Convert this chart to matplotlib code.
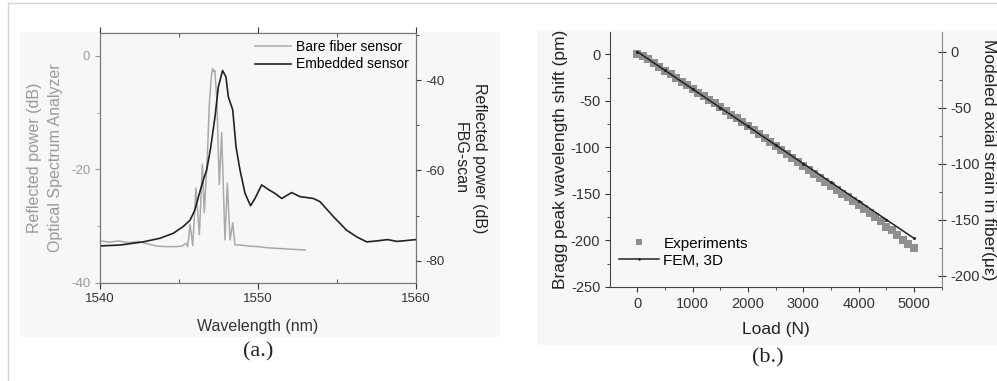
import numpy as np
import matplotlib
matplotlib.use("Agg")
import matplotlib.pyplot as plt
from matplotlib.ticker import MultipleLocator, FixedLocator
from matplotlib.patches import Rectangle
from matplotlib.lines import Line2D

plt.rcParams['font.family'] = ['Liberation Sans', 'DejaVu Sans']
plt.rcParams['axes.unicode_minus'] = False

# ---- (a.) reflection spectra ----
bare_wl = [1540.0, 1540.6, 1541.2, 1541.8, 1542.4, 1543.0, 1543.6, 1544.2, 1544.8, 1545.2,
           1545.44, 1545.55, 1545.7, 1545.87, 1546.07, 1546.29, 1546.48, 1546.6, 1546.8, 1546.92,
           1547.05, 1547.13, 1547.2, 1547.27, 1547.4, 1547.55, 1547.7, 1547.91, 1548.06, 1548.23,
           1548.4, 1548.54, 1548.8, 1549.4, 1550.0, 1550.6, 1551.2, 1551.8, 1552.4, 1553.0]
bare_db = [-32.6, -32.8, -32.6, -32.9, -32.7, -33.1, -33.5, -33.6, -33.6, -33.5,
           -33.0, -33.6, -29.7, -33.4, -23.3, -31.5, -19.1, -27.6, -17.3, -8.5,
           -3.5, -2.3, -2.8, -2.6, -8.0, -22.7, -13.5, -32.4, -22.4, -32.4,
           -29.4, -33.3, -33.3, -33.5, -33.6, -33.8, -33.9, -34.0, -34.1, -34.2]

emb_wl = [1540.0, 1541.27, 1542.74, 1543.8, 1544.64, 1545.27, 1545.7, 1546.0, 1546.29, 1546.54,
          1546.75, 1547.0, 1547.28, 1547.49, 1547.76, 1547.97, 1548.12, 1548.4, 1548.61, 1548.86,
          1549.18, 1549.53, 1549.81, 1550.23, 1550.65, 1551.08, 1551.5, 1552.13, 1552.66, 1553.5,
          1553.92, 1554.77, 1555.6, 1556.25, 1556.88, 1557.5, 1558.2, 1558.8, 1559.4, 1560.0]
emb_db = [-76.7, -76.5, -75.8, -75.0, -73.9, -72.4, -71.0, -68.8, -65.1, -62.1,
          -59.9, -55.1, -48.1, -41.5, -37.9, -39.3, -43.7, -46.6, -54.8, -59.9,
          -65.1, -67.8, -66.2, -63.2, -64.2, -65.1, -66.2, -64.9, -65.8, -66.2,
          -66.9, -70.2, -73.2, -74.7, -75.8, -75.6, -75.3, -75.7, -75.5, -75.3]

# ---- (b.) wavelength shift vs load ----
load_exp = [0, 100, 200, 300, 400, 500, 600, 700, 800, 900,
            1000, 1100, 1200, 1300, 1400, 1500, 1600, 1700, 1800, 1900,
            2000, 2100, 2200, 2300, 2400, 2500, 2600, 2700, 2800, 2900,
            3000, 3100, 3200, 3300, 3400, 3500, 3600, 3700, 3800, 3900,
            4000, 4100, 4200, 4300, 4400, 4500, 4600, 4700, 4800, 4900, 5000]
shift_exp = [0.8, -1.5, -5.5, -9.8, -13.5, -17.6, -21.2, -25.8, -29.4, -33.0,
             -37.1, -41.3, -44.8, -48.9, -52.6, -56.8, -60.4, -65.1, -68.7, -72.9,
             -77.2, -81.0, -85.3, -89.6, -93.8, -98.4, -103.0, -107.5, -111.6, -116.0,
             -120.4, -124.5, -128.9, -133.0, -137.3, -141.4, -145.6, -149.8, -153.7, -158.1,
             -162.3, -166.0, -170.8, -175.2, -179.0, -185.6, -188.4, -194.0, -199.2, -203.5, -208.0]
load_fem = [0, 500, 1000, 1500, 2000, 2500, 3000, 3500, 4000, 4500, 5000]
strain_fem = [0, -16.7, -33.3, -50.0, -66.6, -83.3, -99.9, -116.6, -133.3, -149.9, -166.6]

GRAY = '#a9a9a9'
DARK = '#222222'

fig = plt.figure(figsize=(9.97, 3.81), dpi=100)
W, H = 997, 381

# light background panels and outer frame
fig.patches.append(Rectangle((20 / W, 1 - 337 / H), 480 / W, 305 / H, transform=fig.transFigure,
                             facecolor='#f7f7f7', edgecolor='none', zorder=-5))
fig.patches.append(Rectangle((537 / W, 1 - 345 / H), 460 / W, 315 / H, transform=fig.transFigure,
                             facecolor='#f7f7f7', edgecolor='none', zorder=-5))
fig.lines.append(Line2D([8 / W, 8 / W], [0, 1 - 3 / H], transform=fig.transFigure, color='#d4d4d4', lw=1))
fig.lines.append(Line2D([8 / W, 1], [1 - 3 / H, 1 - 3 / H], transform=fig.transFigure, color='#d4d4d4', lw=1))

# ---------- panel (a.) ----------
axa = fig.add_axes([100 / W, 1 - 283 / H, 316 / W, 250 / H])
axa.patch.set_alpha(0)
axa.plot(bare_wl, bare_db, color=GRAY, lw=1.1, label='Bare fiber sensor')
axa.set_xlim(1540, 1560)
axa.set_ylim(-40, 4)
axa.xaxis.set_major_locator(FixedLocator([1540, 1550, 1560]))
axa.xaxis.set_minor_locator(FixedLocator([1545, 1555]))
axa.yaxis.set_major_locator(MultipleLocator(20))
axa.yaxis.set_minor_locator(MultipleLocator(10))
axa.tick_params(axis='x', which='both', top=True, labelsize=9.5, colors='#333333')
axa.tick_params(axis='x', which='major', direction='out', length=4)
axa.tick_params(axis='x', which='minor', direction='in', length=3)
axa.tick_params(axis='y', which='both', direction='out', colors='#999999', labelsize=9.5)
axa.tick_params(axis='y', which='minor', length=2)
for s in axa.spines.values():
    s.set_color('#777777')
axa.set_xlabel('Wavelength (nm)', fontsize=11.5, color='#333333', labelpad=10)
axa.set_ylabel('Reflected power (dB)\nOptical Spectrum Analyzer', fontsize=11.5,
               color='#999999', labelpad=6, linespacing=1.5)

axa2 = axa.twinx()
axa2.plot(emb_wl, emb_db, color=DARK, lw=1.2, label='Embedded sensor')
axa2.set_ylim(-84.9, -29.6)
axa2.yaxis.set_major_locator(MultipleLocator(20))
axa2.yaxis.set_minor_locator(MultipleLocator(10))
axa2.tick_params(axis='y', which='both', direction='out', colors='#333333', labelsize=9.5)
axa2.tick_params(axis='y', which='minor', length=2)
for s in axa2.spines.values():
    s.set_color('#777777')
axa2.set_ylabel('Reflected power (dB)\nFBG-scan', fontsize=11.5, color='#222222',
                rotation=270, labelpad=30, linespacing=1.3)

h1, l1 = axa.get_legend_handles_labels()
h2, l2 = axa2.get_legend_handles_labels()
axa2.legend(h1 + h2, l1 + l2, loc='upper right', frameon=False, fontsize=10,
            handlelength=2.6, handletextpad=0.4, borderaxespad=0.1, labelspacing=0.25)

fig.text(258 / W, 1 - 352 / H, '(a.)', family='Liberation Serif', fontsize=16,
         ha='center', va='center', color='#222222')

# ---------- panel (b.) ----------
axb = fig.add_axes([610 / W, 1 - 287 / H, 331.7 / W, 255 / H])
axb.patch.set_alpha(0)
axb.plot(load_exp, shift_exp, linestyle='none', marker='s', markersize=5.6,
         color='#8f8f8f', markeredgewidth=0, label='Experiments')
axb.set_xlim(-494, 5500)
axb.set_ylim(-250, 24)
axb.xaxis.set_major_locator(MultipleLocator(1000))
axb.xaxis.set_minor_locator(MultipleLocator(500))
axb.yaxis.set_major_locator(MultipleLocator(50))
axb.yaxis.set_minor_locator(MultipleLocator(25))
axb.tick_params(which='both', direction='out', labelsize=10.5, colors='#333333')
axb.tick_params(which='minor', length=2)
axb.spines['top'].set_visible(False)
axb.spines['right'].set_visible(False)
axb.spines['left'].set_color('#444444')
axb.spines['bottom'].set_color('#444444')
axb.set_xlabel('Load (N)', fontsize=12.5, color='#222222', labelpad=8)
axb.set_ylabel('Bragg peak wavelength shift (pm)', fontsize=12.5, color='#222222', labelpad=2)

axb2 = axb.twinx()
axb2.plot(load_fem, strain_fem, color=DARK, lw=1.1, marker='o', markersize=1.2, label='FEM, 3D')
axb2.set_ylim(-210, 17.6)
axb2.yaxis.set_major_locator(MultipleLocator(50))
axb2.yaxis.set_minor_locator(MultipleLocator(25))
axb2.tick_params(axis='y', which='major', direction='inout', length=6, labelsize=10.5, colors='#333333')
axb2.tick_params(axis='y', which='minor', direction='in', length=2, colors='#333333')
for k in ['top', 'left', 'bottom']:
    axb2.spines[k].set_visible(False)
axb2.spines['right'].set_color('#888888')

hb1, lb1 = axb.get_legend_handles_labels()
hb2, lb2 = axb2.get_legend_handles_labels()
axb.legend(hb1 + hb2, lb1 + lb2, loc='lower left', frameon=False, fontsize=11,
           handlelength=2.6, handletextpad=0.3, borderaxespad=0.2, labelspacing=0.2,
           bbox_to_anchor=(0.0, 0.04), markerscale=0.7)

fig.text(988 / W, 1 - 160 / H, 'Modeled axial strain in fiber(\u03bc\u03b5)', fontsize=12.5,
         rotation=270, ha='center', va='center', color='#222222')
fig.text(768 / W, 1 - 358 / H, '(b.)', family='Liberation Serif', fontsize=16,
         ha='center', va='center', color='#222222')

fig.savefig('out.png', dpi=100, facecolor='white')
